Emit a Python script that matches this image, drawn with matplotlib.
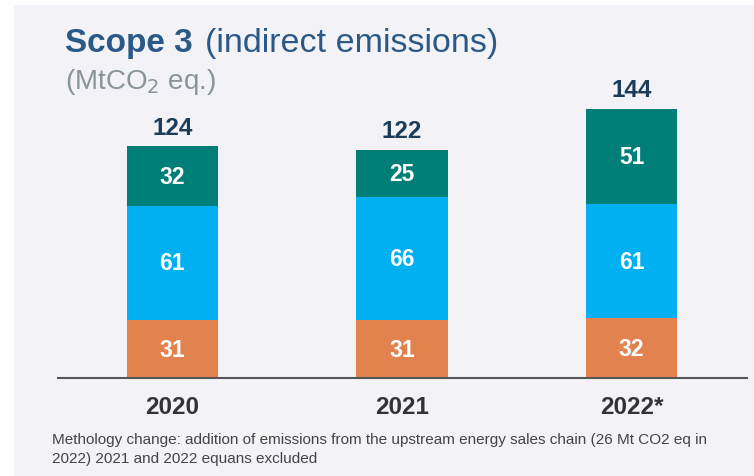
import matplotlib
matplotlib.use("Agg")
import matplotlib.pyplot as plt
from matplotlib.patches import Rectangle

years = ["2020", "2021", "2022*"]
seg_bottom = [31, 31, 32]
seg_middle = [61, 66, 61]
seg_top = [32, 25, 51]
totals = [124, 122, 144]

c_bottom = "#E2834F"
c_middle = "#00B0F0"
c_top = "#007F78"
bg = "#F2F2F7"

plt.rcParams['font.family'] = ['Liberation Sans', 'DejaVu Sans']

fig = plt.figure(figsize=(7.54, 4.77), dpi=100)
fig.patch.set_facecolor("white")
fig.patches.append(Rectangle((14/754, 0), 1, (477-6)/477, transform=fig.transFigure,
                             facecolor=bg, edgecolor="none", zorder=-10))

ax = fig.add_axes([57.5/754, (477-379)/477, 689/754, (379-60)/477])
ax.set_facecolor("none")
x = list(range(len(years)))
w = 0.397
ax.bar(x, seg_bottom, width=w, color=c_bottom)
ax.bar(x, seg_middle, width=w, bottom=seg_bottom, color=c_middle)
b2 = [a + b for a, b in zip(seg_bottom, seg_middle)]
ax.bar(x, seg_top, width=w, bottom=b2, color=c_top)

for i in x:
    ax.text(i, seg_bottom[i] / 2, str(seg_bottom[i]), ha="center", va="center",
            color="white", fontsize=16.5, fontweight="bold")
    ax.text(i, seg_bottom[i] + seg_middle[i] / 2, str(seg_middle[i]), ha="center", va="center",
            color="white", fontsize=16.5, fontweight="bold")
    ax.text(i, b2[i] + seg_top[i] / 2, str(seg_top[i]), ha="center", va="center",
            color="white", fontsize=16.5, fontweight="bold")
    ax.text(i, totals[i] + 4, str(totals[i]), ha="center", va="bottom",
            color="#1C3D5A", fontsize=17.5, fontweight="bold")

ax.set_xlim(-0.5, 2.5)
ax.set_ylim(0, 319 / 1.87)
for s in ["top", "right", "left"]:
    ax.spines[s].set_visible(False)
ax.spines["bottom"].set_color("#555555")
ax.spines["bottom"].set_linewidth(1.5)
ax.set_yticks([])
ax.set_xticks(x)
ax.set_xticklabels(years, fontsize=17.5, fontweight="bold", color="#333333")
ax.tick_params(axis="x", length=0, pad=12)

fig.text(65/754, 1 - 52/477, "Scope 3", fontsize=24, fontweight="bold", color="#2B5987",
         va="baseline", ha="left")
fig.text(205/754, 1 - 52/477, "(indirect emissions)", fontsize=24.5, color="#2B5987",
         va="baseline", ha="left")
fig.text(65/754, 1 - 89/477, r"(MtCO$_2$ eq.)", fontsize=20, color="#8A949B",
         va="baseline", ha="left")

fig.text(52/754, 1 - 444/477,
         "Methology change: addition of emissions from the upstream energy sales chain (26 Mt CO2 eq in",
         fontsize=11, color="#444444", va="baseline", ha="left")
fig.text(52/754, 1 - 463/477, "2022) 2021 and 2022 equans excluded",
         fontsize=11, color="#444444", va="baseline", ha="left")

fig.savefig("out.png", dpi=100, facecolor=fig.get_facecolor())
